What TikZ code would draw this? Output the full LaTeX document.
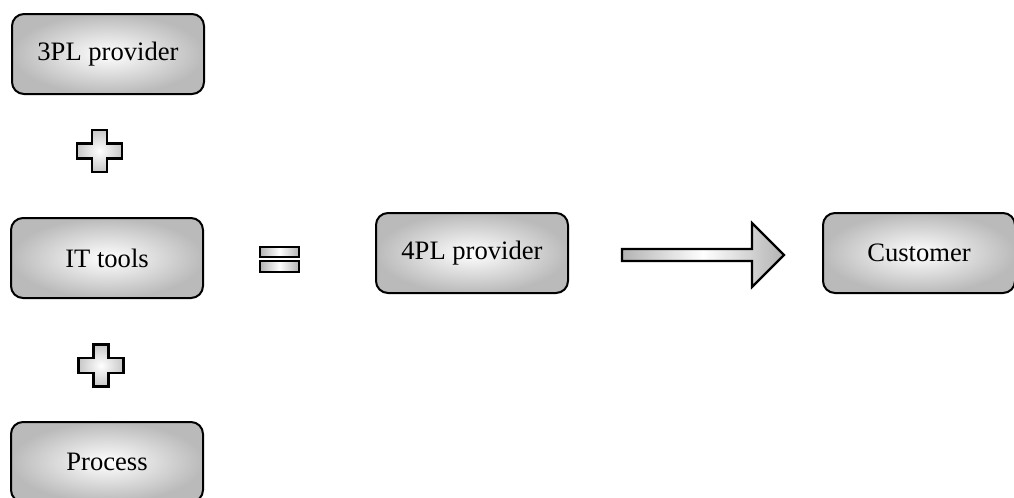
\documentclass[tikz,border=0pt]{standalone}
\usepackage{fontspec}
\setmainfont{Liberation Serif}
\usetikzlibrary{positioning}

\tikzset{
    partbox/.style={draw, line width=1pt, rounded corners=6pt,
        inner color=white, outer color=black!27,
        minimum width=96pt, minimum height=40pt,
        font=\fontsize{13.3}{15}\selectfont},
    signfill/.style={draw, line width=1.3pt, inner color=white, outer color=black!22},
    barfill/.style={draw, line width=1.1pt, left color=black!30, right color=black!30, middle color=white},
    plussign/.pic={
        \path[signfill] (-7.5,-21) -- (7.5,-21) -- (7.5,-7.5) -- (22.5,-7.5) -- (22.5,7.5)
            -- (7.5,7.5) -- (7.5,21) -- (-7.5,21) -- (-7.5,7.5) -- (-22.5,7.5)
            -- (-22.5,-7.5) -- (-7.5,-7.5) -- cycle;
    }
}

\begin{document}
\begin{tikzpicture}[x=0.5pt,y=-0.5pt]
    \useasboundingbox (0,0) rectangle (1014,498);
    % left column and result boxes
    \foreach \name/\x/\y/\val in {
        prov3/108/54/3PL provider,
        ittools/107/258/IT tools,
        process/107/462/Process,
        prov4/472/253/4PL provider,
        customer/919/253/Customer%
  } {
    \node[partbox] (\name) at (\x,\y) {\val};
  }
    % plus signs
    \pic at (99.5,151) {plussign};
    \pic at (101,365.5) {plussign};
    % equals sign
    \path[barfill] (260,247) rectangle (299,257);
    \path[barfill] (260,261) rectangle (299,272);
    % arrow to customer
    \path[barfill] (622,249) -- (752,249) -- (752,223) -- (784,255) -- (752,287)
        -- (752,261) -- (622,261) -- cycle;
\end{tikzpicture}
\end{document}
